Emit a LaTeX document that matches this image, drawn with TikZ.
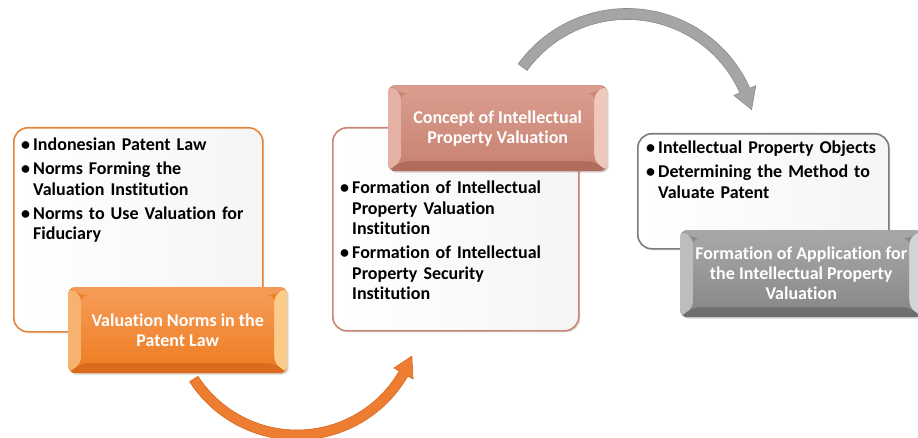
\documentclass[tikz,border=0pt]{standalone}
\usepackage{fontspec}
\setmainfont[Ligatures=NoCommon]{Carlito}
\usetikzlibrary{shadows}

% palette
\definecolor{orgBase}{HTML}{EF7F26}
\definecolor{orgLight}{HTML}{F59A55}
\definecolor{orgHi}{HTML}{FBCB8A}
\definecolor{orgDark}{HTML}{DA6A1C}
\definecolor{orgEdge}{HTML}{E4863C}
\definecolor{roseBase}{HTML}{C98474}
\definecolor{roseLight}{HTML}{D99C8D}
\definecolor{roseHi}{HTML}{EFC8BC}
\definecolor{roseDark}{HTML}{B06C5D}
\definecolor{roseEdge}{HTML}{C98676}
\definecolor{gryBase}{HTML}{8A8A8A}
\definecolor{gryLight}{HTML}{A6A6A6}
\definecolor{gryHi}{HTML}{D4D4D4}
\definecolor{gryDark}{HTML}{6E6E6E}
\definecolor{gryEdge}{HTML}{7C7C7C}
\definecolor{arrOrg}{HTML}{ED7D31}
\definecolor{arrOrgEdge}{HTML}{D5681F}
\definecolor{arrGry}{HTML}{A5A5A5}
\definecolor{arrGryEdge}{HTML}{8A8A8A}

% one bullet entry with hanging indent
\newcommand\entry[1]{\hangindent=12pt\hangafter=1\noindent\makebox[12pt][l]{•}#1\par}

\tikzset{
  panel/.style={draw=#1, line width=1.6pt, rounded corners=14pt, inner sep=0pt,
    left color=white, middle color=white, right color=black!4,
    drop shadow={shadow xshift=1.5pt, shadow yshift=-1.5pt, opacity=0.25}},
  itemlist/.style={inner sep=0pt, text width=250pt, align=left,
    font=\fontsize{18}{20.5}\selectfont\bfseries,
    execute at begin node={\setlength{\parskip}{3.5pt}}},
  bevelbox/.style n args={4}{rounded corners=7pt, inner sep=0pt, fill=#1,
    minimum width=219pt, minimum height=86pt, align=center, text=white,
    font=\fontsize{18}{20}\selectfont\bfseries,
    drop shadow={shadow xshift=1.5pt, shadow yshift=-1.5pt, opacity=0.3},
    path picture={
      \fill[#2] (path picture bounding box.north west) -- (path picture bounding box.north east)
        -- ([xshift=-13pt,yshift=-8pt]path picture bounding box.north east)
        -- ([xshift=13pt,yshift=-8pt]path picture bounding box.north west) -- cycle;
      \fill[#2!50!#3] (path picture bounding box.north west) -- (path picture bounding box.south west)
        -- ([xshift=13pt,yshift=10pt]path picture bounding box.south west)
        -- ([xshift=13pt,yshift=-8pt]path picture bounding box.north west) -- cycle;
      \fill[#3] (path picture bounding box.north east) -- (path picture bounding box.south east)
        -- ([xshift=-13pt,yshift=10pt]path picture bounding box.south east)
        -- ([xshift=-13pt,yshift=-8pt]path picture bounding box.north east) -- cycle;
      \fill[#4] (path picture bounding box.south west) -- (path picture bounding box.south east)
        -- ([xshift=-13pt,yshift=10pt]path picture bounding box.south east)
        -- ([xshift=13pt,yshift=10pt]path picture bounding box.south west) -- cycle;
      \shade[top color=#2, bottom color=#1]
        ([xshift=13pt,yshift=-8pt]path picture bounding box.north west)
        rectangle ([xshift=-13pt,yshift=10pt]path picture bounding box.south east);
    }},
}

\begin{document}
\begin{tikzpicture}[x=1pt,y=1pt]
\useasboundingbox (0,0) rectangle (918,437);

% ---- stage 1 ----
\node[panel=orgEdge, minimum width=249pt, minimum height=204pt, anchor=north west] (p1) at (13,310) {};
\node[itemlist, anchor=north west] (l1) at (21,299) {%
  \entry{Indonesian Patent Law}
  \entry{Norms Forming the\newline Valuation Institution}
  \entry{Norms to Use Valuation for\newline Fiduciary}};
\node[bevelbox={orgBase}{orgLight}{orgHi}{orgDark}, anchor=north west] (h1) at (68,150)
  {Valuation Norms in the\\Patent Law};

% ---- stage 2 ----
\node[panel=roseEdge, minimum width=246pt, minimum height=203pt, anchor=north west] (p2) at (332,310) {};
\node[itemlist, anchor=north west] (l2) at (340,256) {%
  \entry{Formation of Intellectual\newline Property Valuation\newline Institution}
  \entry{Formation of Intellectual\newline Property Security\newline Institution}};
\node[bevelbox={roseBase}{roseLight}{roseHi}{roseDark}, anchor=north west] (h2) at (388,352)
  {Concept of Intellectual\\Property Valuation};

% ---- stage 3 ----
\node[panel=gryEdge, minimum width=251pt, minimum height=115pt, anchor=north west] (p3) at (637,304) {};
\node[itemlist, anchor=north west] (l3) at (646,296) {%
  \entry{Intellectual Property Objects}
  \entry{Determining the Method to\newline Valuate Patent}};
\node[bevelbox={gryBase}{gryLight}{gryHi}{gryDark}, minimum width=242pt, minimum height=87pt,
  anchor=north west] (h3) at (680,207)
  {Formation of Application for\\the Intellectual Property\\Valuation};

% ---- curved arrows ----
\coordinate (bendA) at (297,125);
\coordinate (bendB) at (627,294);
\begin{scope}[shift={(bendA)}]
  \filldraw[fill=arrOrg, draw=arrOrgEdge, line width=0.6pt]
    (213:128) arc[start angle=213, end angle=330, radius=128]
    -- (330:134) -- (339:123) -- (330:112) -- (330:118)
    arc[start angle=330, end angle=213, radius=118] -- cycle;
\end{scope}
\begin{scope}[shift={(bendB)}]
  \filldraw[fill=arrGry, draw=arrGryEdge, line width=0.6pt]
    (144:134.5) arc[start angle=144, end angle=24, radius=134.5]
    -- (24:141) -- (15:129) -- (24:117) -- (24:123.5)
    arc[start angle=24, end angle=144, radius=123.5] -- cycle;
\end{scope}
\end{tikzpicture}
\end{document}
